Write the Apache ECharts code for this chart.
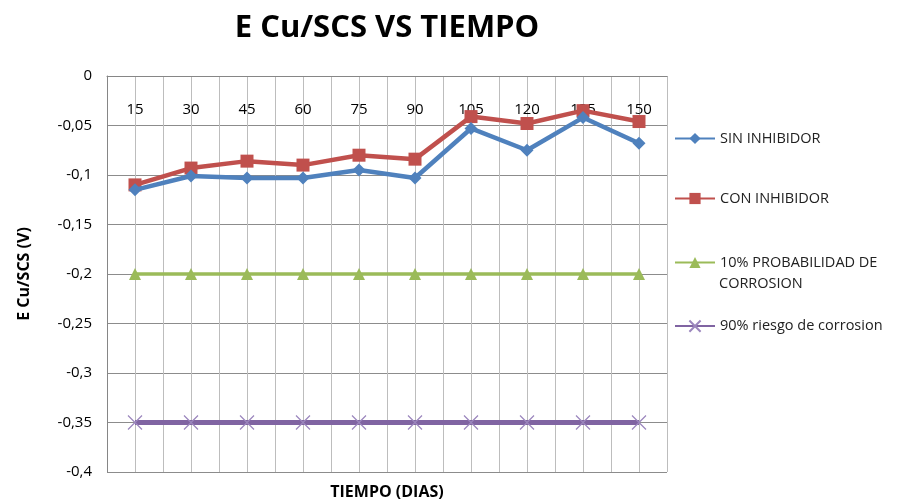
<!DOCTYPE html>
<html><head><meta charset="utf-8">
<script src="https://cdn.jsdelivr.net/npm/echarts@6/dist/echarts.min.js"></script>
<style>html,body{margin:0;padding:0;background:#fff}#c{width:916px;height:500px}</style>
</head><body><div id="c"></div>
<script>
const categories = ['15','30','45','60','75','90','105','120','135','150'];
const sinInhibidor = [-0.115,-0.101,-0.103,-0.103,-0.095,-0.103,-0.053,-0.075,-0.042,-0.068];
const conInhibidor = [-0.110,-0.093,-0.086,-0.090,-0.080,-0.084,-0.041,-0.048,-0.035,-0.046];
const prob10 = [-0.2,-0.2,-0.2,-0.2,-0.2,-0.2,-0.2,-0.2,-0.2,-0.2];
const riesgo90 = [-0.35,-0.35,-0.35,-0.35,-0.35,-0.35,-0.35,-0.35,-0.35,-0.35];
const seriesNames = ['SIN INHIBIDOR','CON INHIBIDOR','10% PROBABILIDAD DE CORROSION','90% riesgo de corrosion'];

const FONT = 'Open Sans';
const chart = echarts.init(document.getElementById('c'));
const xSym = 'path://M0,0L10,10M10,0L0,10';
const legendBase = {orient:'vertical', left: 674, padding:0, itemWidth: 40, itemHeight: 14, itemGap: 0,
  formatter: n => n === seriesNames[2] ? '10% PROBABILIDAD DE' : n,
  textStyle:{fontFamily:FONT, fontSize:14.5, color:'#222'}};
chart.setOption({
  animation:false,
  title:{text:'E Cu/SCS VS TIEMPO', left:382, textAlign:'center', top:8,
    textStyle:{fontFamily:FONT, fontWeight:'bold', fontSize:31, color:'#000'}},
  legend:[
    Object.assign({}, legendBase, {top:131, data:[seriesNames[0]]}),
    Object.assign({}, legendBase, {top:191, data:[seriesNames[1]]}),
    Object.assign({}, legendBase, {top:255, data:[seriesNames[2]]}),
    Object.assign({}, legendBase, {top:318, data:[seriesNames[3]]})
  ],
  graphic:[{type:'text', left:719, top:276, style:{text:'CORROSION', font:'14.5px "Open Sans"', fill:'#222'}}],
  grid:{left:107, right:249, top:76, bottom:28, containLabel:false, outerBoundsMode:'none'},
  xAxis:[
    {type:'category', data:categories, position:'top', boundaryGap:true,
     axisLine:{onZero:false, lineStyle:{color:'#868686', width:1}},
     axisTick:{show:false},
     axisLabel:{inside:true, margin:26, fontFamily:FONT, fontSize:15, color:'#000'},
     splitLine:{show:false}},
    {type:'value', min:0, max:20, interval:1, position:'bottom',
     name:'TIEMPO (DIAS)', nameLocation:'middle', nameGap:12,
     nameTextStyle:{fontFamily:FONT, fontWeight:'bold', fontSize:16, color:'#000'},
     axisLine:{show:false}, axisTick:{show:false}, axisLabel:{show:false},
     splitLine:{show:true, lineStyle:{color:'#bdbdbd', width:1}}}
  ],
  yAxis:{type:'value', min:-0.4, max:0, interval:0.05,
    name:'E Cu/SCS (V)', nameLocation:'middle', nameGap:75, nameRotate:90,
    nameTextStyle:{fontFamily:FONT, fontWeight:'bold', fontSize:16, color:'#000'},
    axisLine:{show:true, lineStyle:{color:'#868686'}},
    axisTick:{show:false},
    axisLabel:{margin:15, fontFamily:FONT, fontSize:15, color:'#000',
      formatter: v => Number(v.toFixed(2)).toString().replace('.', ',')},
    splitLine:{show:true, lineStyle:{color:'#8c8c8c', width:1}}},
  series:[
    {name:seriesNames[0], type:'line', data:sinInhibidor, symbol:'diamond', symbolSize:13,
     lineStyle:{color:'#4F81BD', width:4.5}, itemStyle:{color:'#4F81BD'}, z:4},
    {name:seriesNames[1], type:'line', data:conInhibidor, symbol:'rect', symbolSize:13,
     lineStyle:{color:'#C0504D', width:4.5}, itemStyle:{color:'#C0504D'}, z:3},
    {name:seriesNames[2], type:'line', data:prob10, symbol:'triangle', symbolSize:12,
     lineStyle:{color:'#9BBB59', width:3.5}, itemStyle:{color:'#9BBB59'}, z:3},
    {name:seriesNames[3], type:'line', data:riesgo90, symbol:xSym, symbolSize:14,
     lineStyle:{color:'#8064A2', width:5}, itemStyle:{color:'none', borderColor:'#9b86bd', borderWidth:1.2}, z:3}
  ]
});
</script></body></html>
